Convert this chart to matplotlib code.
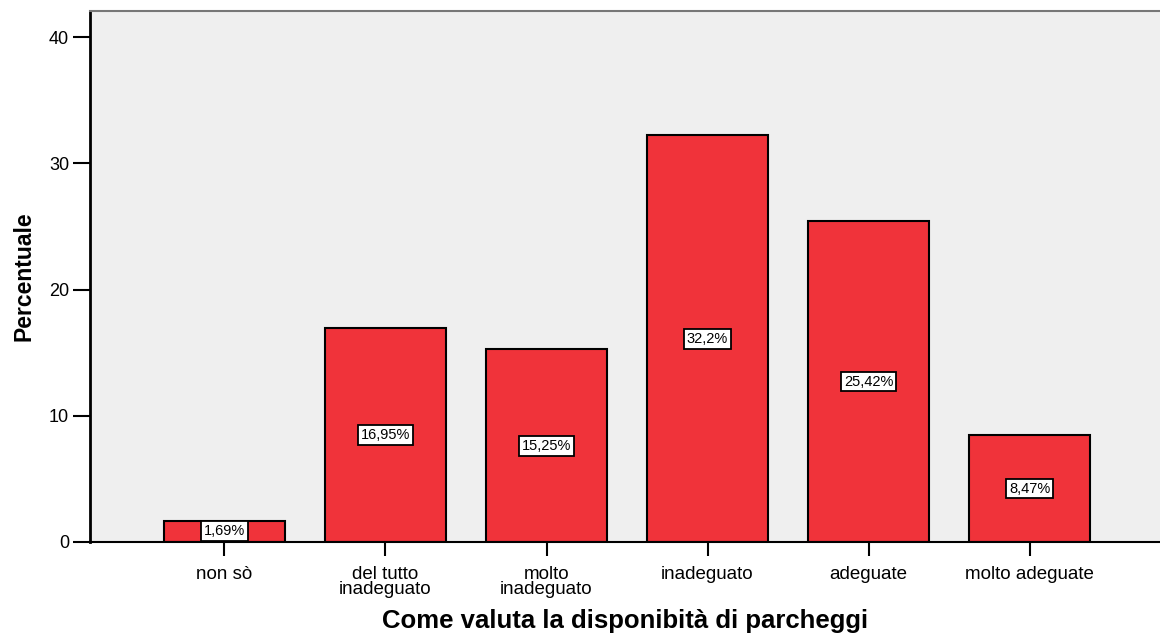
import matplotlib.pyplot as plt

plt.rcParams['font.family'] = ['Liberation Sans', 'DejaVu Sans']

categories = ['non sò', 'del tutto\ninadeguato', 'molto\ninadeguato',
              'inadeguato', 'adeguate', 'molto adeguate']
values = [1.69, 16.95, 15.25, 32.2, 25.42, 8.47]
value_labels = ['1,69%', '16,95%', '15,25%', '32,2%', '25,42%', '8,47%']
y_ticks = [0, 10, 20, 30, 40]

fig = plt.figure(figsize=(11.6, 6.33), dpi=100)
ax = fig.add_axes([90 / 1160, 1 - 542 / 633, 1070 / 1160, 531 / 633])
ax.set_facecolor('#efefef')

x = list(range(len(categories)))
ax.bar(x, values, width=0.75, color='#f0333a', edgecolor='black', linewidth=1.5, zorder=2)

for xi, v, lab in zip(x, values, value_labels):
    ax.text(xi, v / 2, lab, ha='center', va='center', fontsize=10.5, zorder=3,
            bbox=dict(boxstyle='square,pad=0.2', facecolor='white', edgecolor='black', linewidth=1.3))

ax.set_xlim(-0.835, 5.81)
ax.set_ylim(0, 42.06)
ax.set_xticks(x)
ax.set_xticklabels(categories, fontsize=13.5, linespacing=0.88)
ax.set_yticks(y_ticks)
ax.tick_params(axis='y', labelsize=13, length=12, width=1.5, pad=3)
ax.tick_params(axis='x', length=10, width=1.5, pad=7)

ax.spines['right'].set_visible(False)
ax.spines['top'].set_color('#777777')
ax.spines['top'].set_linewidth(1.5)
ax.spines['left'].set_linewidth(2)
ax.spines['bottom'].set_linewidth(1.5)

ax.set_ylabel('Percentuale', fontsize=16.5, fontweight='bold', labelpad=10)
ax.set_xlabel('Come valuta la disponibità di parcheggi', fontsize=18.5, fontweight='bold', labelpad=8)

fig.savefig('out.png', dpi=100)
